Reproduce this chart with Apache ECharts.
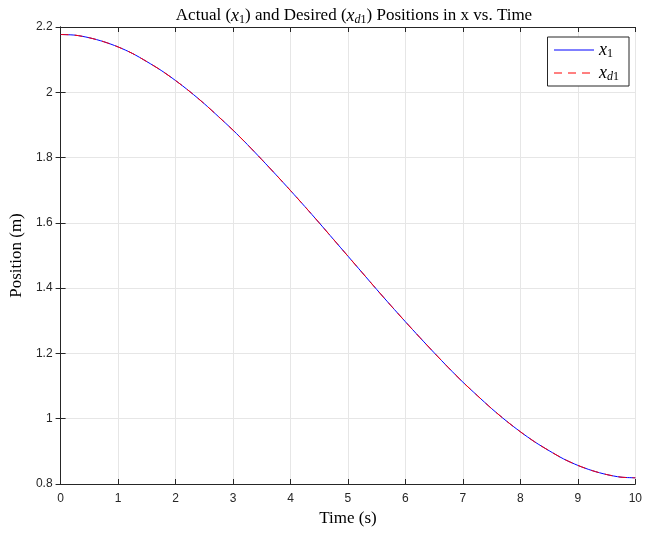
<!DOCTYPE html>
<html>
<head>
<meta charset="utf-8">
<script src="https://cdn.jsdelivr.net/npm/echarts@6/dist/echarts.min.js"></script>
<style>
  html, body { margin: 0; padding: 0; background: #fff; }
  #chart { width: 645px; height: 533px; }
</style>
</head>
<body>
<div id="chart"></div>
<script>
// time samples (s)
const time = [0, 0.25, 0.5, 0.75, 1, 1.25, 1.5, 1.75, 2, 2.25, 2.5, 2.75, 3, 3.25, 3.5, 3.75, 4, 4.25, 4.5, 4.75,
  5, 5.25, 5.5, 5.75, 6, 6.25, 6.5, 6.75, 7, 7.25, 7.5, 7.75, 8, 8.25, 8.5, 8.75, 9, 9.25, 9.5, 9.75, 10];
// actual position x1 (m)
const actualX1 = [2.177, 2.175, 2.167, 2.155, 2.139, 2.119, 2.094, 2.067, 2.036, 2.002, 1.965, 1.925, 1.884,
  1.840, 1.794, 1.747, 1.699, 1.650, 1.600, 1.549, 1.498, 1.447, 1.396, 1.346, 1.297, 1.249, 1.202,
  1.156, 1.112, 1.071, 1.031, 0.994, 0.960, 0.929, 0.902, 0.877, 0.857, 0.841, 0.829, 0.821, 0.819];
// desired position xd1 (m)
const desiredXd1 = [2.177, 2.175, 2.167, 2.155, 2.139, 2.119, 2.094, 2.067, 2.036, 2.002, 1.965, 1.925, 1.884,
  1.840, 1.794, 1.747, 1.699, 1.650, 1.600, 1.549, 1.498, 1.447, 1.396, 1.346, 1.297, 1.249, 1.202,
  1.156, 1.112, 1.071, 1.031, 0.994, 0.960, 0.929, 0.902, 0.877, 0.857, 0.841, 0.829, 0.821, 0.819];
const xTicks = [0, 1, 2, 3, 4, 5, 6, 7, 8, 9, 10];
const yTicks = [0.8, 1, 1.2, 1.4, 1.6, 1.8, 2, 2.2];

const serif = "'Liberation Serif', 'DejaVu Serif', serif";
const sans = "'Liberation Sans', Arial, sans-serif";
const axisColor = "#262626";

const mathRich = {
  t: { fontFamily: serif, fontSize: 17, fontWeight: "normal", color: "#000" },
  x: { fontFamily: serif, fontSize: 18, fontWeight: "normal", fontStyle: "italic", color: "#000" },
  s: { fontFamily: serif, fontSize: 12, fontWeight: "normal", color: "#000", padding: [8, 0, 0, 0] },
  si: { fontFamily: serif, fontSize: 12, fontWeight: "normal", fontStyle: "italic", color: "#000", padding: [8, 0, 0, 0] },
};

const pairs = (ys) => time.map((t, i) => [t, ys[i]]);

const boxAxis = {
  axisLine: { show: true, lineStyle: { color: axisColor, width: 1 } },
  axisTick: { show: true, inside: true, length: 5, lineStyle: { color: axisColor } },
  axisLabel: { show: false },
  splitLine: { show: false },
};

const chart = echarts.init(document.getElementById("chart"));
chart.setOption({
  animation: false,
  backgroundColor: "#fff",
  title: {
    text: "{t|Actual (}{x|x}{s|1}{t|) and Desired (}{x|x}{si|d}{s|1}{t|) Positions in x vs. Time}",
    left: 349,
    textAlign: "center",
    top: 1,
    textStyle: { fontWeight: "normal", rich: mathRich },
  },
  legend: {
    right: 16,
    top: 37,
    orient: "vertical",
    itemWidth: 40,
    itemHeight: 12,
    itemGap: 4,
    padding: [4, 10, 3, 6],
    borderColor: axisColor,
    borderWidth: 1,
    backgroundColor: "#fff",
    data: ["x1", "xd1"],
    formatter: (name) => (name === "x1" ? "{x|x}{s|1}" : "{x|x}{si|d}{s|1}"),
    textStyle: { rich: mathRich },
    itemStyle: { opacity: 0 },
    lineStyle: { width: 1 },
  },
  grid: { left: 60, right: 7, top: 27, bottom: 49, containLabel: false },
  xAxis: [
    {
      type: "value",
      min: 0,
      max: 10,
      interval: 1,
      name: "Time (s)",
      nameLocation: "middle",
      nameGap: 25,
      nameTextStyle: { fontFamily: serif, fontSize: 17, color: "#000" },
      axisLine: { show: true, onZero: false, lineStyle: { color: axisColor } },
      axisTick: { show: true, inside: true, length: 5, lineStyle: { color: axisColor } },
      axisLabel: {
        fontFamily: sans, fontSize: 12, color: axisColor, margin: 9,
        formatter: (v) => (xTicks.includes(v) ? String(v) : ""),
      },
      splitLine: { show: true, lineStyle: { color: "#e6e6e6", width: 1 } },
    },
    Object.assign({ type: "value", position: "top", min: 0, max: 10, interval: 1 }, boxAxis),
  ],
  yAxis: [
    {
      type: "value",
      min: 0.8,
      max: 2.2,
      interval: 0.2,
      name: "Position (m)",
      nameLocation: "middle",
      nameGap: 33,
      nameTextStyle: { fontFamily: serif, fontSize: 17, color: "#000" },
      axisLine: { show: true, onZero: false, lineStyle: { color: axisColor } },
      axisTick: { show: true, inside: true, length: 5, lineStyle: { color: axisColor } },
      axisLabel: {
        fontFamily: sans, fontSize: 12, color: axisColor, margin: 8,
        formatter: (v) => {
          const r = Math.round(v * 10) / 10;
          return yTicks.includes(r) ? String(r) : "";
        },
      },
      splitLine: { show: true, lineStyle: { color: "#e6e6e6", width: 1 } },
    },
    Object.assign({ type: "value", position: "right", min: 0.8, max: 2.2, interval: 0.2 }, boxAxis),
  ],
  series: [
    {
      name: "x1",
      type: "line",
      data: pairs(actualX1),
      smooth: 0.3,
      symbol: "none",
      lineStyle: { color: "#0000ff", width: 1 },
      itemStyle: { color: "#0000ff" },
    },
    {
      name: "xd1",
      type: "line",
      data: pairs(desiredXd1),
      smooth: 0.3,
      symbol: "none",
      lineStyle: { color: "#ff0000", width: 1, type: [8, 6] },
      itemStyle: { color: "#ff0000" },
    },
  ],
});
window.addEventListener("resize", () => chart.resize());
</script>
</body>
</html>
